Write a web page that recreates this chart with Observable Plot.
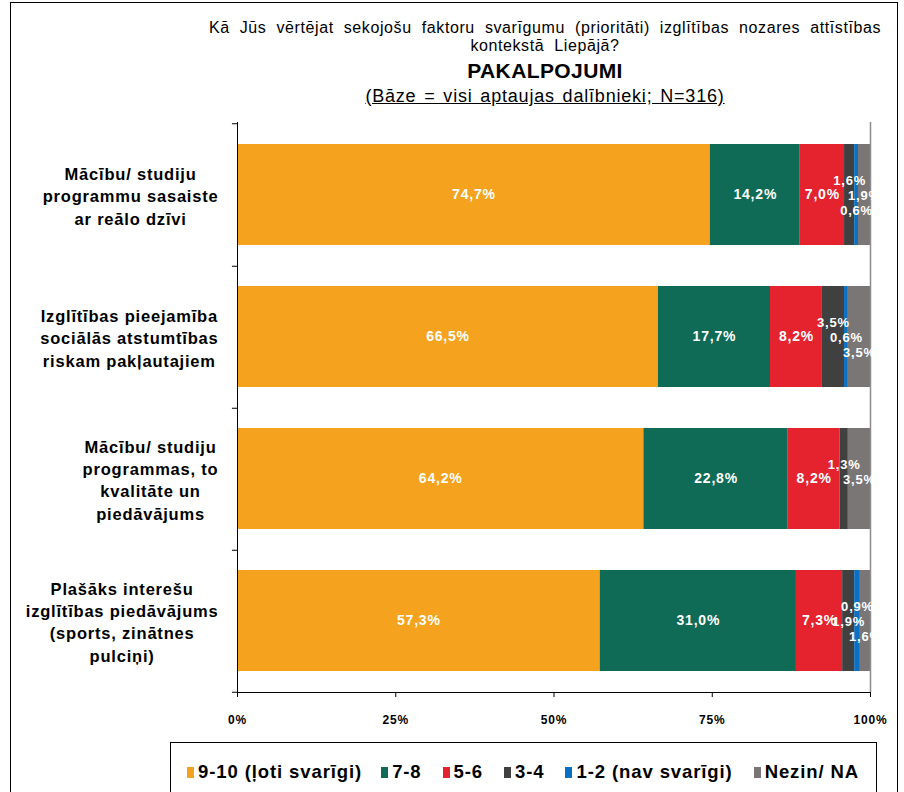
<!DOCTYPE html>
<html><head><meta charset="utf-8">
<script src="https://cdn.jsdelivr.net/npm/d3@7"></script>
<script src="https://cdn.jsdelivr.net/npm/@observablehq/plot@0.6"></script>
<style>
body{margin:0;background:#fff;font-family:"Liberation Sans",Arial,sans-serif;color:#000}
#page{position:relative;width:904px;height:792px;overflow:hidden;background:#fff}
#border{position:absolute;left:10px;top:2px;width:888px;height:830px;border:1px solid #000;box-sizing:border-box}
.tl{position:absolute;left:190px;width:710px;text-align:center;white-space:nowrap}
#t1{top:19px;font-size:16px;line-height:18px;letter-spacing:0.6px;word-spacing:5px}
#t2{top:37px;font-size:16px;line-height:18px;letter-spacing:0.6px;word-spacing:5px}
#t3{top:59px;font-size:21px;line-height:24px;font-weight:bold;letter-spacing:0.4px}
#t4{top:85px;font-size:18px;line-height:22px;text-decoration:underline;letter-spacing:0.8px;word-spacing:2px}
#chart{position:absolute;left:0;top:110px}
#legend{position:absolute;left:170px;top:742px;width:707px;height:80px;border:1px solid #000;box-sizing:border-box;
  display:flex;align-items:flex-start;padding:19px 0 0 16px;font-weight:bold;font-size:18.5px;letter-spacing:0.9px;word-spacing:0px;white-space:nowrap}
.li{display:flex;align-items:center;margin-right:21px;line-height:20px}
.li:first-child{margin-right:19px}
.sw{width:7px;height:11px;margin-right:4px}
</style></head>
<body><div id="page">
<div id="border"></div>
<div class="tl" id="t1">Kā Jūs vērtējat sekojošu faktoru svarīgumu (prioritāti) izglītības nozares attīstības</div>
<div class="tl" id="t2">kontekstā Liepājā?</div>
<div class="tl" id="t3">PAKALPOJUMI</div>
<div class="tl" id="t4">(Bāze = visi aptaujas dalībnieki; N=316)</div>
<div id="chart"></div>
<div id="legend"></div>
</div>
<script>
// ---- data ----
const categories = [
  "Mācību/ studiju\nprogrammu sasaiste\nar reālo dzīvi",
  "Izglītības pieejamība\nsociālās atstumtības\nriskam pakļautajiem",
  "Mācību/ studiju\nprogrammas, to\nkvalitāte un\npiedāvājums",
  "Plašāks interešu\nizglītības piedāvājums\n(sports, zinātnes\npulciņi)"
];
const series = ["9-10 (ļoti svarīgi)", "7-8", "5-6", "3-4", "1-2 (nav svarīgi)", "Nezin/ NA"];
const v910 = [74.7, 66.5, 64.2, 57.3];
const v78  = [14.2, 17.7, 22.8, 31.0];
const v56  = [7.0, 8.2, 8.2, 7.3];
const v34  = [1.6, 3.5, 1.3, 1.9];
const v12  = [0.6, 0.6, 0.0, 0.9];
const vNA  = [1.9, 3.5, 3.5, 1.6];
const xTicks = [0, 25, 50, 75, 100];

// ---- styles ----
const colors = ["#F5A31E", "#0F6B56", "#E4232F", "#404040", "#0A70C4", "#7A7676"];
// vertical lane (-1 top, 0 middle, 1 bottom) of crowded small labels per row: [3-4, 1-2, Nezin]
const smallLanes = [[-1, 1, 0], [-1, 0, 1], [-1, 0, 0], [0, -1, 1]];
const font = "'Liberation Sans', Arial, sans-serif";
const ls = 0.8; // letter spacing px

const valuesBySeries = [v910, v78, v56, v34, v12, vNA];
const table = [];
categories.forEach((c, ri) => series.forEach((s, si) => table.push({category: c, series: s, value: valuesBySeries[si][ri], ri, si})));
const fmt = v => v.toFixed(1).replace(".", ",") + "%";
const isSmall = d => d.value > 0 && d.value < 5;
const lane = d => smallLanes[d.ri][d.si - 3];

const W = 904, H = 627, mL = 237, mR = 34, mT = 12, mB = 45;
const step = (H - mT - mB) / categories.length;
const catFont = 16.5;

const ctx = document.createElement("canvas").getContext("2d");
ctx.font = `bold ${catFont}px ${font}`;
const blockW = categories.map(c => Math.max(...c.split("\n").map(l => ctx.measureText(l).width + ls * l.length)));

const stackOpts = (extra) => Plot.stackX({x: "value", y: "category", z: "series", order: series, ...extra});

const marks = [
  Plot.barX(table, stackOpts({fill: "series"})),
  Plot.ruleX([100], {stroke: "#8c8c8c", strokeWidth: 1.5}),
  Plot.frame({anchor: "left", stroke: "#000"}),
  Plot.frame({anchor: "bottom", stroke: "#000"}),
  Plot.ruleY(categories, {y: d => d, x1: -0.8, x2: 0, dy: step / 2, stroke: "#000"}),
  Plot.ruleY(categories.slice(0, 1), {y: d => d, x1: -0.8, x2: 0, dy: -step / 2, stroke: "#000"}),
  Plot.axisX({ticks: xTicks, tickFormat: d => d + "%", tickSize: 5, tickPadding: 18, fontWeight: "bold", fontSize: 12, label: null}),
  Plot.text(table, stackOpts({text: d => d.value >= 5 ? fmt(d.value) : null, fill: "white", fontWeight: "bold", fontSize: 14})),
  ...[-1, 0, 1].map(L => Plot.text(table, stackOpts({
    text: d => isSmall(d) && lane(d) === L ? fmt(d.value) : null,
    dy: L * 15 + 1, fill: "white", fontWeight: "bold", fontSize: 13
  }))),
  ...categories.map((c, i) => Plot.text([c], {
    x: () => 0, y: d => d, text: d => d, textAnchor: "middle",
    dx: -(19 + blockW[i] / 2), fontWeight: "bold", fontSize: catFont, lineHeight: 1.36, fill: "#000"
  }))
];

const chart = Plot.plot({
  width: W, height: H, marginLeft: mL, marginRight: mR, marginTop: mT, marginBottom: mB,
  style: {fontFamily: font, background: "transparent", overflow: "visible", color: "#000", letterSpacing: ls + "px"},
  x: {domain: [0, 100], axis: null},
  y: {domain: categories, paddingInner: 0.29, paddingOuter: 0.145, axis: null},
  color: {domain: series, range: colors},
  marks
});
document.getElementById("chart").appendChild(chart);

const legend = document.getElementById("legend");
series.forEach((s, i) => {
  const it = document.createElement("div"); it.className = "li";
  const sw = document.createElement("span"); sw.className = "sw"; sw.style.background = colors[i];
  const tx = document.createElement("span"); tx.textContent = s;
  it.append(sw, tx); legend.append(it);
});
</script>
</body></html>
